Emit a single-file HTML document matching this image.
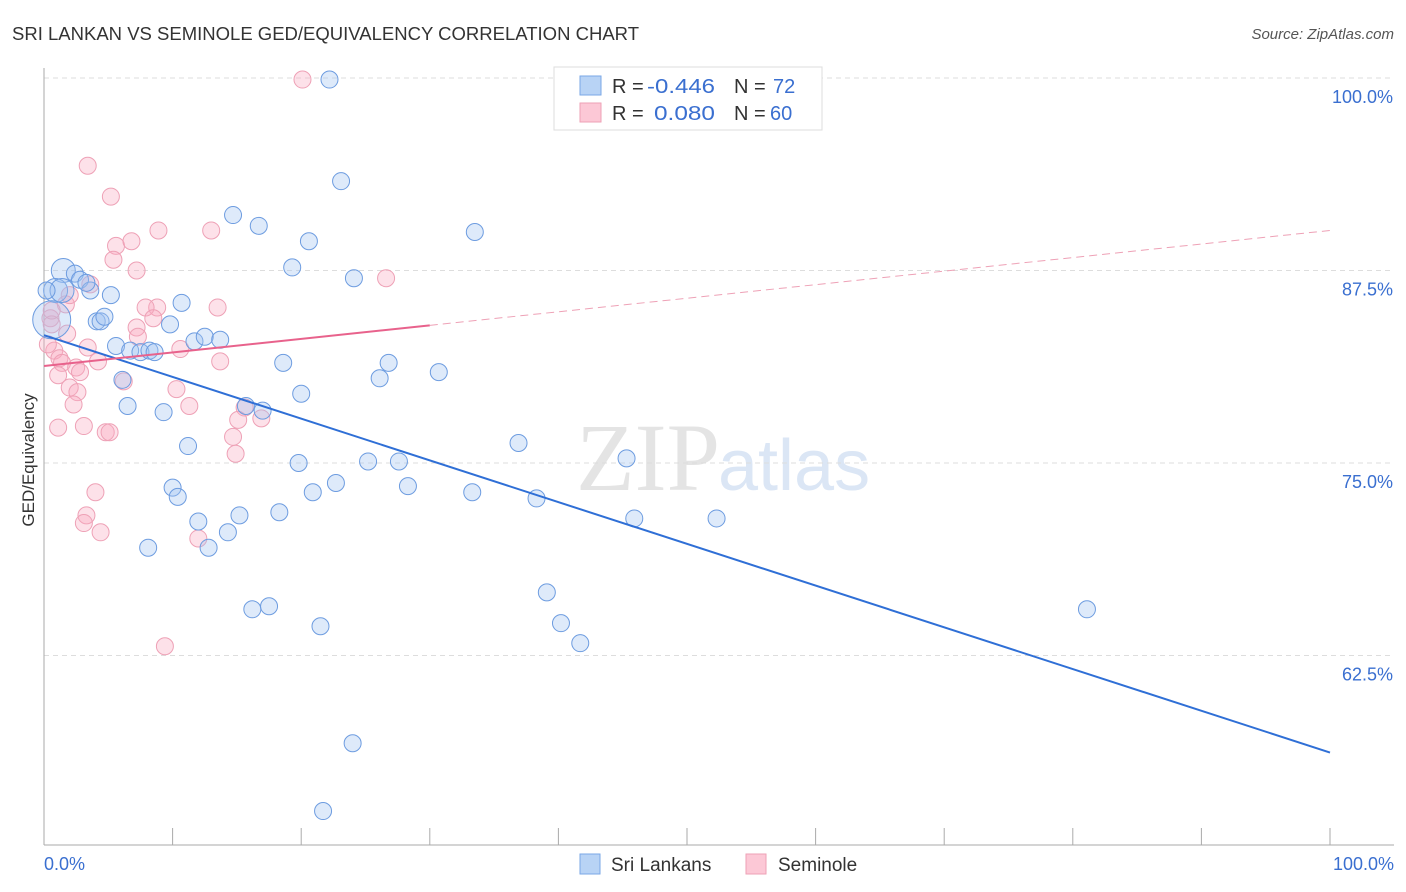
<!DOCTYPE html>
<html><head><meta charset="utf-8"><style>
body{margin:0;background:#fff;font-family:"Liberation Sans",sans-serif}
svg{display:block}
</style></head><body>
<svg id="chart" width="1406" height="892">
<text x="12" y="40" font-size="18" fill="#333" textLength="627" lengthAdjust="spacingAndGlyphs">SRI LANKAN VS SEMINOLE GED/EQUIVALENCY CORRELATION CHART</text>
<text x="1394" y="39" font-size="15" fill="#555" font-style="italic" text-anchor="end">Source: ZipAtlas.com</text>
<text x="720" y="490" font-size="96" fill="#e4e4e4" text-anchor="end" font-family="Liberation Serif">ZIP</text>
<text x="718" y="490" font-size="72" fill="#dbe6f5">atlas</text>
<g id="grid"></g><g id="axes"></g><g id="pts"></g><g id="trends"></g>
<g>
<rect x="554" y="67" width="268" height="63" fill="#fff" stroke="#ddd"/>
<rect x="580" y="76" width="21" height="19" fill="#b8d3f5" stroke="#7aa7e6"/>
<rect x="580" y="103" width="21" height="19" fill="#fcc8d6" stroke="#eea1b6"/>
<text x="612" y="93" font-size="20" fill="#333">R = <tspan fill="#3a6fd0" x="647" textLength="68" lengthAdjust="spacingAndGlyphs">-0.446</tspan></text>
<text x="734" y="93" font-size="20" fill="#333">N = <tspan fill="#3a6fd0" x="773">72</tspan></text>
<text x="612" y="120" font-size="20" fill="#333">R = <tspan fill="#3a6fd0" x="654" textLength="61" lengthAdjust="spacingAndGlyphs">0.080</tspan></text>
<text x="734" y="120" font-size="20" fill="#333">N = <tspan fill="#3a6fd0" x="770">60</tspan></text>
</g>
<g>
<rect x="580" y="854" width="20" height="20" fill="#b8d3f5" stroke="#7aa7e6"/>
<text x="611" y="871" font-size="19" fill="#333">Sri Lankans</text>
<rect x="746" y="854" width="20" height="20" fill="#fcc8d6" stroke="#eea1b6"/>
<text x="778" y="871" font-size="19" fill="#333">Seminole</text>
</g>
<text x="34" y="460" font-size="17" fill="#333" transform="rotate(-90 34 460)" text-anchor="middle">GED/Equivalency</text>
</svg>
<script>
const yTicks=[100,87.5,75,62.5];
const yTickLabels=["100.0%","87.5%","75.0%","62.5%"];
const xTickLabels=["0.0%","100.0%"];
const sriX=[1.5,0.9,1.4,2.4,2.8,3.6,3.3,5.2,4.1,4.4,4.7,5.6,6.7,7.5,8.2,8.6,9.8,10.7,11.7,12.5,13.7,6.1,6.5,9.3,11.2,10.0,10.4,12.0,14.3,15.2,12.8,8.1,15.7,17.0,14.7,16.7,20.6,19.3,23.1,24.1,22.2,18.6,20.0,19.8,20.9,22.7,25.2,27.6,26.1,26.8,30.7,28.3,33.5,33.3,36.9,38.3,45.3,45.9,52.3,39.1,40.2,41.7,81.1,16.2,17.5,21.5,24.0,21.7,18.3,0.6,0.2];
const sriY=[87.5,86.2,86.2,87.3,86.9,86.2,86.7,85.9,84.2,84.2,84.5,82.6,82.3,82.2,82.3,82.2,84.0,85.4,82.9,83.2,83.0,80.4,78.7,78.3,76.1,73.4,72.8,71.2,70.5,71.6,69.5,69.5,78.7,78.4,91.1,90.4,89.4,87.7,93.3,87.0,99.9,81.5,79.5,75.0,73.1,73.7,75.1,75.1,80.5,81.5,80.9,73.5,90.0,73.1,76.3,72.7,75.3,71.4,71.4,66.6,64.6,63.3,65.5,65.5,65.7,64.4,56.8,52.4,71.8,84.3,86.2];
const semX=[20.1,3.4,5.2,5.6,6.8,5.4,7.2,8.9,13.0,26.6,13.5,8.8,7.9,7.2,8.5,7.3,10.6,13.7,1.7,2.0,3.6,0.5,0.6,0.8,1.2,1.8,3.4,4.2,1.4,2.5,2.8,1.1,2.0,2.6,2.3,6.2,10.3,11.3,15.6,16.9,15.1,14.7,14.9,3.1,1.1,4.8,5.1,4.0,3.3,3.1,4.4,12.0,9.4,0.3,0.6];
const semY=[99.9,94.3,92.3,89.1,89.4,88.2,87.5,90.1,90.1,87.0,85.1,85.1,85.1,83.8,84.4,83.2,82.4,81.6,85.3,85.9,86.6,84.4,84.0,82.3,81.8,83.4,82.5,81.6,81.5,81.2,80.9,80.7,79.9,79.6,78.8,80.3,79.8,78.7,78.6,77.9,77.8,76.7,75.6,77.4,77.3,77.0,77.0,73.1,71.6,71.1,70.5,70.1,63.1,82.7,84.9];
const sriTrend=[83.3,56.2];
const semTrend=[81.3,90.1];
const semSolidEnd=30;

const NS="http://www.w3.org/2000/svg";
const X=v=>44+v*12.86, Y=v=>78+(100-v)*15.4;
function mk(t,a,p){const e=document.createElementNS(NS,t);for(const k in a)e.setAttribute(k,a[k]);p.appendChild(e);return e;}
const grid=document.getElementById('grid'),axes=document.getElementById('axes'),pts=document.getElementById('pts'),tr=document.getElementById('trends');
yTicks.forEach((t,i)=>{
 const l=mk('line',{x1:44,x2:1394,y1:Y(t),y2:Y(t),stroke:'#ddd','stroke-dasharray':'5,4'},grid);
 
 
 const tx=mk('text',{x:1393,y:Y(t)+25,'font-size':18,fill:'#3a6fd0','text-anchor':'end'},axes);tx.textContent=yTickLabels[i];
 
 
});
const ax=mk('line',{x1:44,x2:44,y1:68,y2:845,stroke:'#aaa'},axes);


const bx=mk('line',{x1:44,x2:1394,y1:845,y2:845,stroke:'#aaa'},axes);


for(let i=0;i<=10;i++){const t=mk('line',{x1:X(i*10),x2:X(i*10),y1:828,y2:845,stroke:'#aaa'},axes);
 
 }
[[0,'start',44],[100,'end',1394]].forEach((d,i)=>{const t=mk('text',{x:d[2],y:870,'font-size':18,fill:'#3a6fd0','text-anchor':d[1]},axes);t.textContent=xTickLabels[i];
 
 });
semX.forEach((x,i)=>{const c=mk('circle',{cx:X(x),cy:Y(semY[i]),r:8.5,fill:'rgba(248,170,192,0.35)',stroke:'#eea1b6','stroke-width':1},pts);
 
 });
sriX.forEach((x,i)=>{const r=i==69?19:(i<3?12:8.5);const c=mk('circle',{cx:X(x),cy:Y(sriY[i]),r:r,fill:'rgba(160,195,240,0.35)',stroke:'#6d9ce0','stroke-width':1},pts);
 
 });
const bl=mk('line',{x1:X(0),y1:Y(sriTrend[0]),x2:X(100),y2:Y(sriTrend[1]),stroke:'#2f6fd6','stroke-width':2},tr);


const pm=semTrend[0]+(semTrend[1]-semTrend[0])*semSolidEnd/100;
const pl=mk('line',{x1:X(0),y1:Y(semTrend[0]),x2:X(semSolidEnd),y2:Y(pm),stroke:'#e8628c','stroke-width':2},tr);


const pd=mk('line',{x1:X(semSolidEnd),y1:Y(pm),x2:X(100),y2:Y(semTrend[1]),stroke:'#eea1b6','stroke-width':1,'stroke-dasharray':'8,5'},tr);


</script>
</body></html>
